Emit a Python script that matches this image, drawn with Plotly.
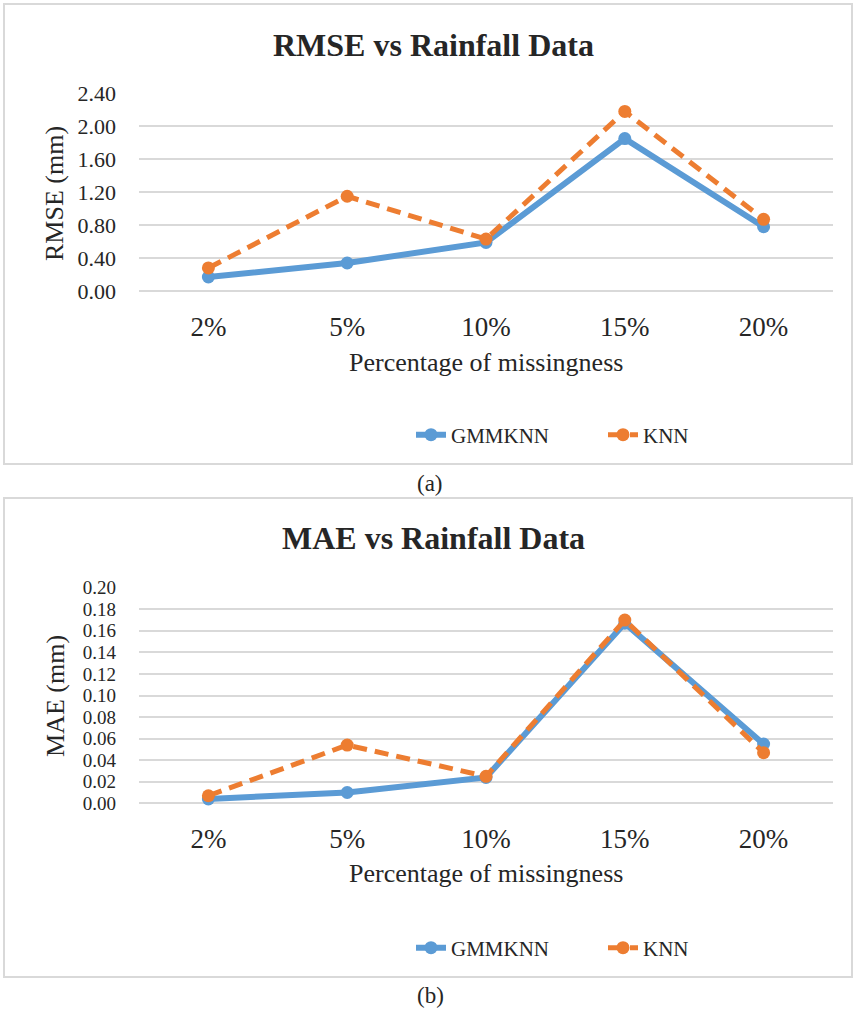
import plotly.graph_objects as go

W, H = 856, 1010

categories = ["2%", "5%", "10%", "15%", "20%"]

rmse_gmmknn = [0.17, 0.34, 0.59, 1.85, 0.78]
rmse_knn = [0.28, 1.15, 0.63, 2.18, 0.87]

mae_gmmknn = [0.004, 0.010, 0.024, 0.167, 0.055]
mae_knn = [0.007, 0.054, 0.025, 0.170, 0.047]

rmse_ticks = [0.0, 0.4, 0.8, 1.2, 1.6, 2.0, 2.4]
mae_ticks = [0.00, 0.02, 0.04, 0.06, 0.08, 0.10, 0.12, 0.14, 0.16, 0.18, 0.20]

BLUE = "#5B9BD5"
ORANGE = "#ED7D31"
GRID = "#D9D9D9"
TXT = "#262626"
FONT = "Liberation Serif"

def px_x(x):
    return x / W

def px_y(y):
    return 1 - y / H

fig = go.Figure()

for (g, k, xa, ya, lg) in [
    (rmse_gmmknn, rmse_knn, "x", "y", "legend"),
    (mae_gmmknn, mae_knn, "x2", "y2", "legend2"),
]:
    fig.add_trace(go.Scatter(
        x=categories, y=g, name="GMMKNN", mode="lines+markers",
        line=dict(color=BLUE, width=6),
        marker=dict(color=BLUE, size=13, symbol="circle"),
        xaxis=xa, yaxis=ya, legend=lg, cliponaxis=False,
    ))
    fig.add_trace(go.Scatter(
        x=categories, y=k, name="KNN", mode="lines+markers",
        line=dict(color=ORANGE, width=5, dash="14px,8px"),
        marker=dict(color=ORANGE, size=13, symbol="circle"),
        xaxis=xa, yaxis=ya, legend=lg, cliponaxis=False,
    ))

xdom = [px_x(139), px_x(833)]

common_x = dict(
    type="category", range=[-0.5, 4.5], showgrid=False, zeroline=False,
    showline=False, ticks="", tickfont=dict(family=FONT, size=27, color=TXT),
    ticklabelstandoff=17, fixedrange=True, automargin=False,
)
common_y = dict(
    showgrid=True, gridcolor=GRID, gridwidth=1.5, zeroline=True,
    zerolinecolor=GRID, zerolinewidth=1.5, showline=False, ticks="",
    ticklabelstandoff=22, fixedrange=True, automargin=False,
)

legend_common = dict(orientation="h", xanchor="left", yanchor="middle",
                     font=dict(family=FONT, size=21, color=TXT),
                     bgcolor="rgba(0,0,0,0)", itemwidth=30,
                     entrywidth=147, entrywidthmode="pixels")

fig.update_layout(
    width=W, height=H,
    margin=dict(l=0, r=0, t=0, b=0, pad=0, autoexpand=False),
    paper_bgcolor="white", plot_bgcolor="white",
    font=dict(family=FONT, color=TXT),
    xaxis=dict(domain=xdom, anchor="y", **common_x),
    yaxis=dict(domain=[px_y(291), px_y(93.3)], anchor="x", range=[0, 2.4],
               tickvals=rmse_ticks, ticktext=[f"{v:.2f}" for v in rmse_ticks],
               tickfont=dict(family=FONT, size=22, color=TXT), **common_y),
    xaxis2=dict(domain=xdom, anchor="y2", **common_x),
    yaxis2=dict(domain=[px_y(803.3), px_y(587.7)], anchor="x2", range=[0, 0.2],
                tickvals=mae_ticks, ticktext=[f"{v:.2f}" for v in mae_ticks],
                tickfont=dict(family=FONT, size=19, color=TXT), **common_y),
    legend=dict(x=px_x(411), y=px_y(435), **legend_common),
    legend2=dict(x=px_x(411), y=px_y(948), **legend_common),
    showlegend=True,
)

shapes = []
for (top, bot) in [(4, 464), (498, 977)]:
    shapes.append(dict(type="rect", xref="paper", yref="paper",
                       x0=px_x(4), x1=px_x(852), y0=px_y(bot), y1=px_y(top),
                       line=dict(color=GRID, width=2), layer="below"))
fig.update_layout(shapes=shapes)

ann = []
def add_text(text, x, y, size, bold=False, angle=0):
    ann.append(dict(text=f"<b>{text}</b>" if bold else text, x=px_x(x), y=px_y(y),
                    xref="paper", yref="paper", showarrow=False,
                    xanchor="center", yanchor="middle", textangle=angle,
                    font=dict(family=FONT, size=size, color=TXT)))

add_text("RMSE vs Rainfall Data", 433, 45, 32, bold=True)
add_text("RMSE (mm)", 55, 193, 26, angle=-90)
add_text("Percentage of missingness", 486, 362, 26)
add_text("(a)", 430, 483, 23)

add_text("MAE vs Rainfall Data", 433, 538, 32, bold=True)
add_text("MAE (mm)", 55, 696, 26, angle=-90)
add_text("Percentage of missingness", 486, 873, 26)
add_text("(b)", 430, 995, 23)

fig.update_layout(annotations=ann)

fig.write_html(
    "out.html",
    config={"displayModeBar": False},
    post_script="document.body.style.margin='0';document.body.style.overflow='hidden';",
)
